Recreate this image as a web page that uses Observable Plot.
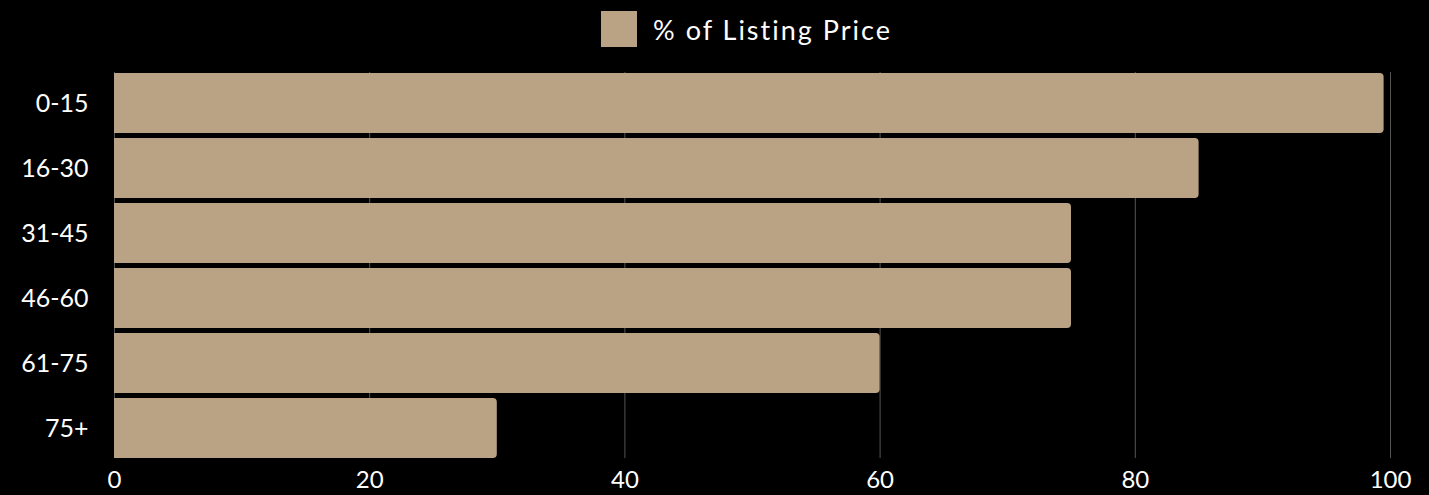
<!DOCTYPE html>
<html>
<head>
<meta charset="utf-8">
<script src="https://cdn.jsdelivr.net/npm/d3@7"></script>
<script src="https://cdn.jsdelivr.net/npm/@observablehq/plot@0.6"></script>
<style>
  html, body { margin: 0; padding: 0; background: #000; }
  #legend { height: 58px; box-sizing: border-box; padding-left: 64px; display: flex; align-items: center; justify-content: center; font-family: Lato, "Open Sans", sans-serif; font-size: 27px; color: #fff; letter-spacing: 2px; }
  #legend .sw { width: 36px; height: 36px; background: #b9a384; margin-right: 16px; }
  #chart svg { display: block; }
</style>
</head>
<body>
<div id="legend"><span class="sw"></span><span>% of Listing Price</span></div>
<div id="chart"></div>
<script>
const categories = ["0-15", "16-30", "31-45", "46-60", "61-75", "75+"];
const values = [99.5, 85, 75, 75, 60, 30];
const xTicks = [0, 20, 40, 60, 80, 100];
const seriesName = "% of Listing Price";

const data = categories.map((c, i) => ({ age: c, value: values[i] }));

const chart = Plot.plot({
  width: 1429,
  height: 437,
  marginLeft: 114,
  marginRight: 39,
  marginTop: 14,
  marginBottom: 37,
  style: { background: "#000", color: "#fff", fontFamily: "Lato, 'Open Sans', sans-serif", fontSize: "25px" },
  x: { domain: [0, 100], ticks: xTicks, label: null },
  y: { domain: categories, paddingInner: 0.08, paddingOuter: 0, label: null },
  marks: [
    Plot.gridX(xTicks, { stroke: "#555", strokeOpacity: 1, strokeWidth: 1 }),
    Plot.barX(data, { x: "value", y: "age", fill: "#b9a384", rx2: 4 }),
    Plot.axisX(xTicks, { tickSize: 0, tickPadding: 12, fontSize: 24, fill: "#fff" }),
    Plot.axisY({ tickSize: 0, tickPadding: 26, fontSize: 25, fill: "#fff" })
  ]
});
document.getElementById("chart").appendChild(chart);
</script>
</body>
</html>
